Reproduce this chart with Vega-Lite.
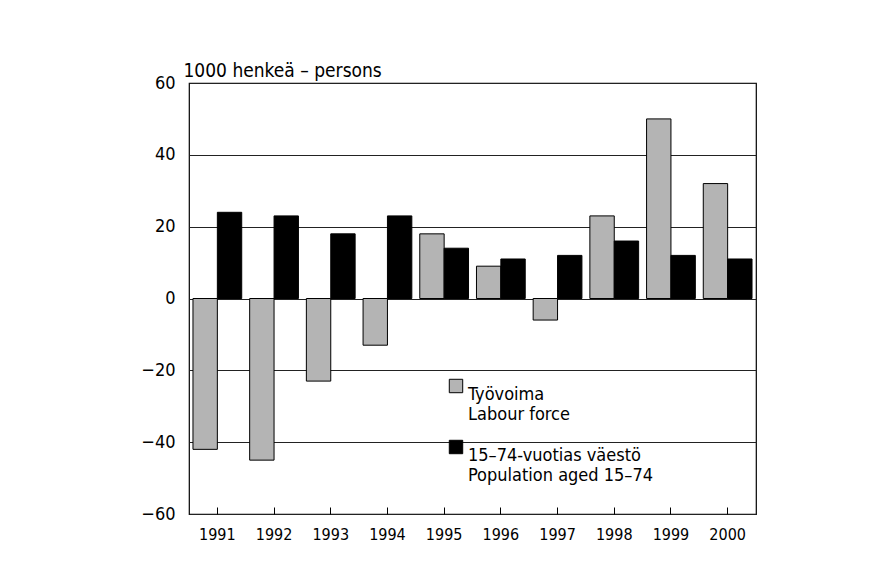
{
  "$schema": "https://vega.github.io/schema/vega-lite/v6.json",
  "width": 567,
  "height": 431,
  "autosize": {"type": "none"},
  "padding": {"left": 189, "top": 83, "right": 118, "bottom": 67},
  "background": "white",
  "config": {
    "font": "DejaVu Sans Condensed, Liberation Sans, sans-serif",
    "view": {"stroke": "black", "strokeWidth": 1.2},
    "axis": {"labelFont": "DejaVu Sans Condensed, Liberation Sans, sans-serif", "titleFont": "DejaVu Sans Condensed, Liberation Sans, sans-serif", "labelColor": "black", "titleColor": "black"},
    "legend": {"labelFont": "DejaVu Sans Condensed, Liberation Sans, sans-serif"}
  },
  "data": {
    "values": [
      {"year": "1991", "series": "Työvoima", "value": -42},
      {"year": "1991", "series": "15–74-vuotias väestö", "value": 24},
      {"year": "1992", "series": "Työvoima", "value": -45},
      {"year": "1992", "series": "15–74-vuotias väestö", "value": 23},
      {"year": "1993", "series": "Työvoima", "value": -23},
      {"year": "1993", "series": "15–74-vuotias väestö", "value": 18},
      {"year": "1994", "series": "Työvoima", "value": -13},
      {"year": "1994", "series": "15–74-vuotias väestö", "value": 23},
      {"year": "1995", "series": "Työvoima", "value": 18},
      {"year": "1995", "series": "15–74-vuotias väestö", "value": 14},
      {"year": "1996", "series": "Työvoima", "value": 9},
      {"year": "1996", "series": "15–74-vuotias väestö", "value": 11},
      {"year": "1997", "series": "Työvoima", "value": -6},
      {"year": "1997", "series": "15–74-vuotias väestö", "value": 12},
      {"year": "1998", "series": "Työvoima", "value": 23},
      {"year": "1998", "series": "15–74-vuotias väestö", "value": 16},
      {"year": "1999", "series": "Työvoima", "value": 50},
      {"year": "1999", "series": "15–74-vuotias väestö", "value": 12},
      {"year": "2000", "series": "Työvoima", "value": 32},
      {"year": "2000", "series": "15–74-vuotias väestö", "value": 11}
    ]
  },
  "mark": {"type": "bar", "stroke": "black", "strokeWidth": 1},
  "encoding": {
    "x": {
      "field": "year",
      "type": "nominal",
      "scale": {"paddingInner": 0.14, "paddingOuter": 0.07},
      "axis": {
        "title": null,
        "labelAngle": 0,
        "labelFontSize": 16,
        "domain": false,
        "tickSize": -7,
        "tickColor": "black",
        "labelPadding": 19
      }
    },
    "xOffset": {
      "field": "series",
      "type": "nominal",
      "sort": ["Työvoima", "15–74-vuotias väestö"]
    },
    "y": {
      "field": "value",
      "type": "quantitative",
      "scale": {"domain": [-60, 60], "nice": false},
      "axis": {
        "values": [-60, -40, -20, 0, 20, 40, 60],
        "labelExpr": "replace(datum.label, '-', '−')",
        "title": "1000 henkeä – persons",
        "titleAngle": 0,
        "titleAlign": "left",
        "titleBaseline": "alphabetic",
        "titleX": -6,
        "titleY": -7,
        "titleFontSize": 19,
        "titleFontWeight": "normal",
        "labelFontSize": 18,
        "labelPadding": 14,
        "ticks": false,
        "domain": false,
        "grid": true,
        "gridColor": "#222",
        "gridWidth": 1
      }
    },
    "color": {
      "field": "series",
      "type": "nominal",
      "scale": {"domain": ["Työvoima", "15–74-vuotias väestö"], "range": ["#b4b4b4", "#000000"]},
      "legend": {
        "title": null,
        "orient": "none",
        "legendX": 258,
        "legendY": 294,
        "symbolType": "square",
        "symbolSize": 180,
        "symbolStrokeColor": "black",
        "symbolStrokeWidth": 1,
        "labelFontSize": 18,
        "labelExpr": "datum.label == 'Työvoima' ? ['Työvoima', 'Labour force'] : ['15–74-vuotias väestö', 'Population aged 15–74']",
        "labelBaseline": "top",
        "labelOffset": 3,
        "rowPadding": 14,
        "labelLimit": 300
      }
    }
  }
}
